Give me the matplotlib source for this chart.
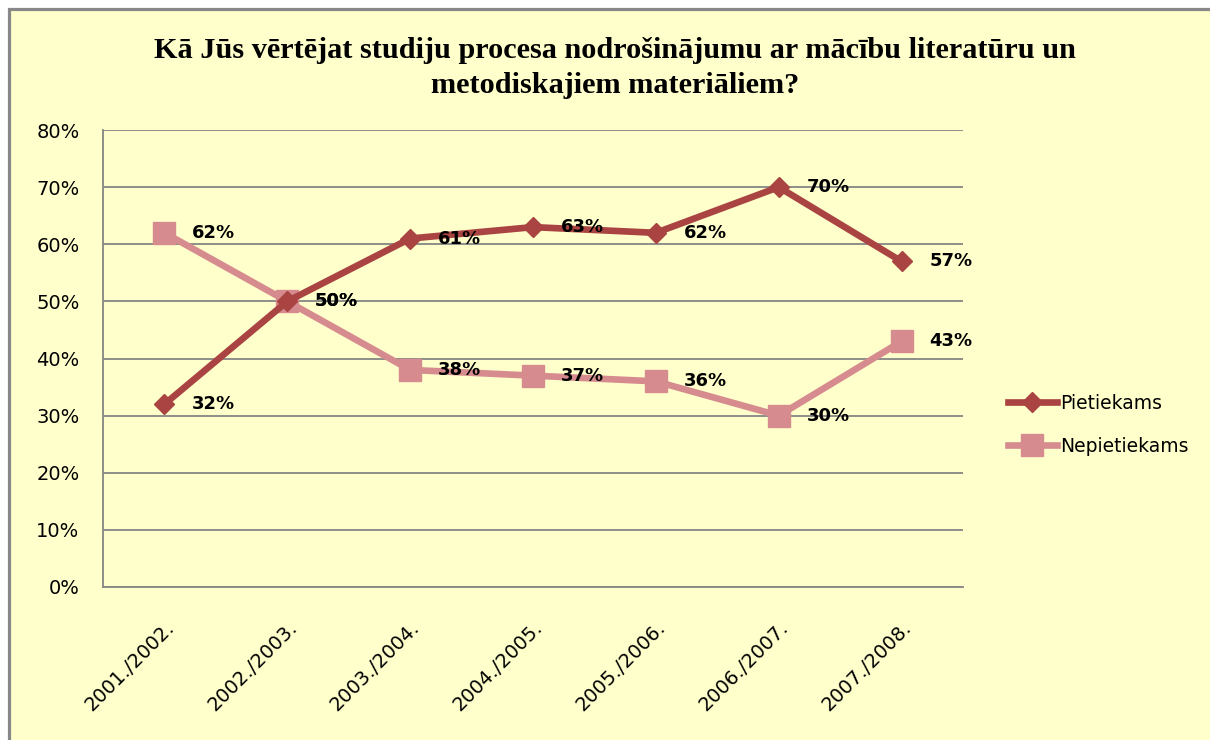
import numpy as np
import matplotlib.pyplot as plt
from matplotlib.patches import Rectangle
from matplotlib.ticker import PercentFormatter

years = ['2001./2002.', '2002./2003.', '2003./2004.', '2004./2005.',
         '2005./2006.', '2006./2007.', '2007./2008.']
pietiekams = [32, 50, 61, 63, 62, 70, 57]
nepietiekams = [62, 50, 38, 37, 36, 30, 43]

title = ('Kā Jūs vērtējat studiju procesa nodrošinājumu ar mācību literatūru un\n'
         'metodiskajiem materiāliem?')

bg = '#FFFFCC'
c_piet = '#A94442'
c_nep = '#D68C8F'
grid_c = '#868686'

W, H = 1210, 740
fig = plt.figure(figsize=(12.1, 7.4), dpi=100, facecolor='white')

# chart area background with a grey frame (top and left edges visible)
fig.patches.append(Rectangle((8.5 / W, -0.05), 1.2, 1.05 - 9.5 / H,
                             transform=fig.transFigure, facecolor=bg,
                             edgecolor='#888888', lw=2.3, zorder=-10))

ax = fig.add_axes([103 / W, 1 - 587 / H, 860 / W, 457 / H])
ax.set_facecolor(bg)

x = np.arange(len(years))
ax.plot(x, nepietiekams, color=c_nep, lw=4.8, marker='s', ms=16.5,
        label='Nepietiekams', zorder=3)
ax.plot(x, pietiekams, color=c_piet, lw=4.8, marker='D', ms=10.5,
        label='Pietiekams', zorder=4)

for xi, v in zip(x, pietiekams):
    ax.annotate(f'{v}%', (xi, v), xytext=(20, 0), textcoords='offset points',
                ha='left', va='center', fontsize=13, fontweight='bold', zorder=5)
for xi, v in zip(x, nepietiekams):
    ax.annotate(f'{v}%', (xi, v), xytext=(20, 0), textcoords='offset points',
                ha='left', va='center', fontsize=13, fontweight='bold', zorder=5)

ax.set_xlim(-0.5, len(years) - 0.5)
ax.set_ylim(0, 80)
ax.set_yticks(np.arange(0, 81, 10))
ax.yaxis.set_major_formatter(PercentFormatter(decimals=0))
ax.grid(axis='y', color=grid_c, lw=1.3)
ax.set_axisbelow(True)
for s in ['top', 'right']:
    ax.spines[s].set_visible(False)
for s in ['left', 'bottom']:
    ax.spines[s].set_color(grid_c)
    ax.spines[s].set_linewidth(1.3)
ax.tick_params(axis='y', length=0, pad=17, labelsize=14)
ax.tick_params(axis='x', length=0, pad=22, labelsize=14)
ax.set_xticks(x)
ax.set_xticklabels(years, rotation=45, ha='right', rotation_mode='anchor')

handles, labels = ax.get_legend_handles_labels()
leg = fig.legend(handles[::-1], labels[::-1], loc='center left',
                 bbox_to_anchor=(0.819, 0.426), frameon=False, fontsize=13.5,
                 handlelength=2.6, labelspacing=1.3, handletextpad=0.2)

fig.text(0.508, 0.908, title, ha='center', va='center', fontsize=21.8,
         fontweight='bold', family='Liberation Serif', linespacing=1.4)

fig.savefig('out.png', dpi=100, facecolor='white')
